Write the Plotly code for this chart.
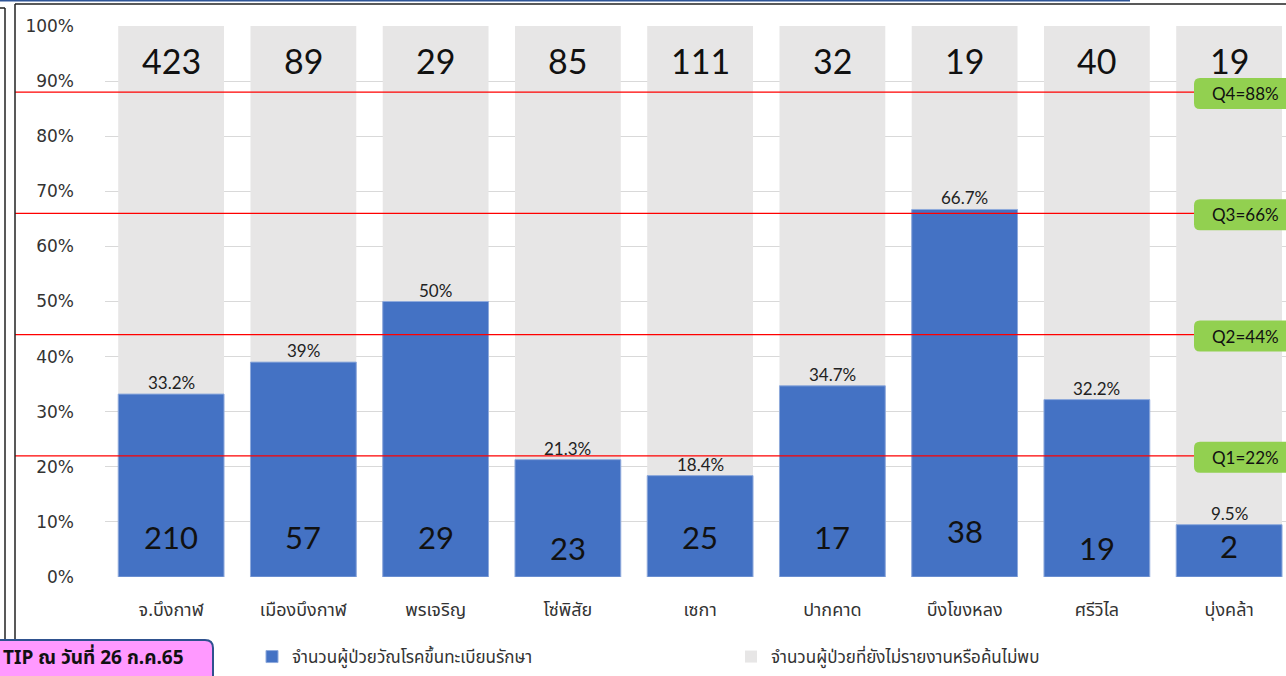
import plotly.graph_objects as go

# District names (Bueng Kan province and its districts)
districts = ["จ.บึงกาฬ", "เมืองบึงกาฬ", "พรเจริญ", "โซ่พิสัย", "เซกา",
             "ปากคาด", "บึงโขงหลง", "ศรีวิไล", "บุ่งคล้า"]
# Registered TB patients under treatment
registered = [210, 57, 29, 23, 25, 17, 38, 19, 2]
# Patients not yet reported / not found
not_found = [423, 89, 29, 85, 111, 32, 19, 40, 19]
# Share registered (%)
pct_registered = [33.2, 39, 50, 21.3, 18.4, 34.7, 66.7, 32.2, 9.5]
# Quartile reference lines
quartile_names = ["Q1", "Q2", "Q3", "Q4"]
quartile_values = [22, 44, 66, 88]

series_names = ["จำนวนผู้ป่วยวัณโรคขึ้นทะเบียนรักษา",
                "จำนวนผู้ป่วยที่ยังไม่รายงานหรือค้นไม่พบ"]
footer_text = "TIP ณ วันที่ 26 ก.ค.65"

# ---- page geometry (pixels) ----
W, H = 1286, 676
ML, MR, MT, MB = 105, 0, 26, 99
PW, PH = W - ML - MR, H - MT - MB
CAT_PX = 132.25                      # width of one category slot
X_RANGE = [-0.5, PW / CAT_PX - 0.5]
PX_PER_UNIT = PH / 100.0             # y pixels per percentage point


def px_x(px):
    """page x pixel -> paper x"""
    return (px - ML) / PW


def px_y(py):
    """page y pixel (top-down) -> paper y"""
    return (H - MB - py) / PH


THAI = "Tahoma, 'Noto Sans Thai', 'Noto Sans Thai UI', 'Noto Sans', sans-serif"
NUM = "Lato, 'Liberation Sans', sans-serif"
BLUE = "#4472C4"
GREY = "#E7E6E6"

fig = go.Figure()

# full-height background bars (100%) for the unreported share
fig.add_trace(go.Bar(
    x=districts, y=[100] * len(districts), name=series_names[1],
    marker=dict(color=GREY, line=dict(width=0)),
    customdata=not_found, hovertemplate="%{x}<br>%{customdata}<extra></extra>",
))
# registered share in front
fig.add_trace(go.Bar(
    x=districts, y=pct_registered, name=series_names[0],
    marker=dict(color=BLUE, line=dict(color="#8FAADC", width=1)),
    customdata=registered, hovertemplate="%{x}<br>%{y}%<br>%{customdata}<extra></extra>",
))

annotations = []
shapes = []

# counts at the top of each column
for d, n in zip(districts, not_found):
    annotations.append(dict(x=d, y=93.8, xref="x", yref="y", text=str(n),
                            xanchor="center", yanchor="middle", showarrow=False,
                            font=dict(family=NUM, size=34, color="#111111")))

# counts inside the blue bars (slight vertical nudges per column)
inner_label_y = [7.3, 7.3, 7.3, 5.3, 7.3, 7.3, 8.4, 5.3, 5.7]
for d, n, yy in zip(districts, registered, inner_label_y):
    annotations.append(dict(x=d, y=yy, xref="x", yref="y", text=str(n),
                            xanchor="center", yanchor="middle", showarrow=False,
                            font=dict(family=NUM, size=31, color="#111111")))

# percentage labels above the blue bars
for d, p in zip(districts, pct_registered):
    annotations.append(dict(x=d, y=p, xref="x", yref="y", text=f"{p:g}%",
                            xanchor="center", yanchor="bottom", yshift=-1, showarrow=False,
                            font=dict(family=NUM, size=17, color="#222222")))

# quartile lines with rounded green tags
tag_l, tag_r = px_x(1194), px_x(1300)
r_x = 6 / PW
half_h = 15.5 / PX_PER_UNIT
r_y = 6 / PX_PER_UNIT
for qn, qv in zip(quartile_names, quartile_values):
    shapes.append(dict(type="line", xref="paper", yref="y",
                       x0=px_x(15), x1=tag_l, y0=qv, y1=qv,
                       line=dict(color="#FF0000", width=1.2)))
    cy = qv - 1.5 / PX_PER_UNIT
    y0, y1 = cy - half_h, cy + half_h
    path = (f"M{tag_l + r_x},{y1} L{tag_r},{y1} L{tag_r},{y0} L{tag_l + r_x},{y0} "
            f"Q{tag_l},{y0} {tag_l},{y0 + r_y} L{tag_l},{y1 - r_y} "
            f"Q{tag_l},{y1} {tag_l + r_x},{y1} Z")
    shapes.append(dict(type="path", xref="paper", yref="y", path=path,
                       fillcolor="#92D050", line=dict(width=0), layer="above"))
    annotations.append(dict(x=px_x(1245), y=cy, xref="paper", yref="y",
                            xanchor="center", yanchor="middle",
                            text=f"{qn}={qv}%", showarrow=False,
                            font=dict(family=NUM, size=17, color="#111111")))

# frame lines around the chart
shapes += [
    dict(type="line", xref="paper", yref="paper", x0=px_x(0), x1=px_x(1130),
         y0=px_y(0.5), y1=px_y(0.5), line=dict(color="#2F5597", width=2)),
    dict(type="line", xref="paper", yref="paper", x0=px_x(15), x1=px_x(W),
         y0=px_y(4), y1=px_y(4), line=dict(color="#222222", width=1.5)),
    dict(type="line", xref="paper", yref="paper", x0=px_x(15), x1=px_x(15),
         y0=px_y(4), y1=px_y(H), line=dict(color="#222222", width=1.5)),
    dict(type="line", xref="paper", yref="paper", x0=px_x(5), x1=px_x(5),
         y0=px_y(8), y1=px_y(H), line=dict(color="#222222", width=1.5)),
    dict(type="line", xref="paper", yref="paper", x0=px_x(0), x1=px_x(5),
         y0=px_y(8), y1=px_y(8), line=dict(color="#222222", width=1.5)),
]

# footer tag (rounded pink box)
bx0, bx1 = px_x(-10), px_x(213)
by0, by1 = px_y(690), px_y(640)
rx, ry = 8 / PW, 8 / PH
shapes.append(dict(
    type="path", xref="paper", yref="paper",
    path=(f"M{bx0},{by1} L{bx1 - rx},{by1} Q{bx1},{by1} {bx1},{by1 - ry} "
          f"L{bx1},{by0} L{bx0},{by0} Z"),
    fillcolor="#FF99FF", line=dict(color="#2F528F", width=2), layer="above"))
annotations.append(dict(x=px_x(186), y=px_y(658), xref="paper", yref="paper",
                        xanchor="right", yanchor="middle",
                        text=f"<b>{footer_text}</b>", showarrow=False,
                        font=dict(family=THAI, size=19, color="#111111")))

fig.update_layout(
    width=W, height=H,
    margin=dict(l=ML, r=MR, t=MT, b=MB, pad=0),
    paper_bgcolor="white", plot_bgcolor="white",
    barmode="overlay", bargap=0.2,
    showlegend=True,
    legend=dict(orientation="h", x=px_x(252), y=px_y(657), xanchor="left", yanchor="middle",
                traceorder="normal", entrywidth=434, itemwidth=30,
                font=dict(family=THAI, size=17, color="#333333"),
                bgcolor="rgba(0,0,0,0)"),
    xaxis=dict(range=X_RANGE, showgrid=False, zeroline=False, showline=False,
               tickfont=dict(family=THAI, size=18, color="#333333"),
               ticks="", ticklabelstandoff=20, fixedrange=True),
    yaxis=dict(range=[0, 100], tickvals=list(range(0, 101, 10)),
               ticktext=[f"{v}%" for v in range(0, 101, 10)],
               showgrid=True, gridcolor="#D9D9D9", gridwidth=1,
               zeroline=False, showline=False, ticks="", ticklabelstandoff=30,
               tickfont=dict(family="'DejaVu Sans', Verdana, sans-serif", size=17, color="#333333"),
               fixedrange=True),
    annotations=annotations, shapes=shapes,
    hovermode="closest",
)

# legend order: registered first
fig.data[0].legendrank = 2
fig.data[1].legendrank = 1

fig.write_html("out.html")
